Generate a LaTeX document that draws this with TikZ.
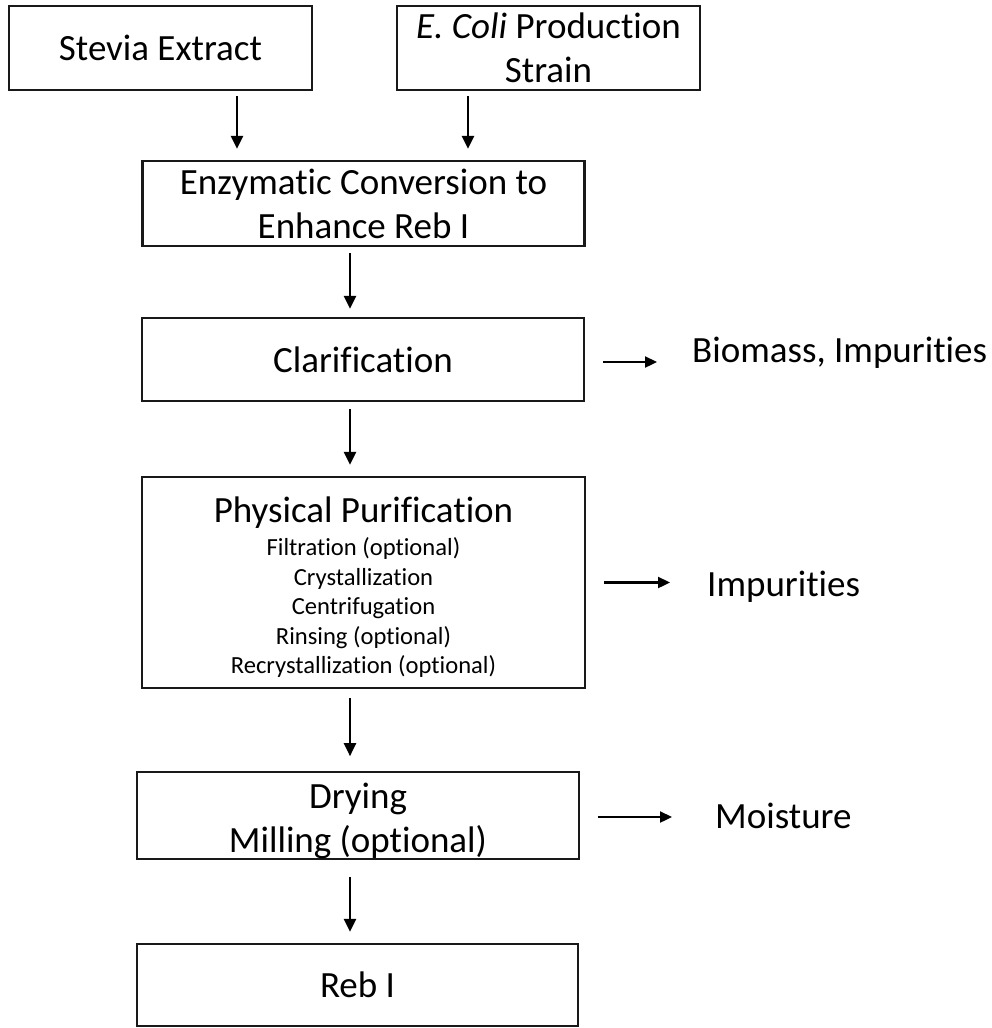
\documentclass[tikz,border=0pt]{standalone}
\usepackage{fontspec}
\setmainfont{Carlito}[Ligatures=NoCommon, RawFeature={-liga;-clig}]
\usetikzlibrary{arrows.meta}
\tikzset{
  box/.style={draw=black!90, line width=2.3pt, rectangle, inner sep=0pt, align=center,
    font=\fontsize{37}{44}\selectfont},
  lbl/.style={inner sep=0pt, anchor=base west, font=\fontsize{37}{44}\selectfont},
  arr/.style={line width=2.3pt, -{Triangle[length=13pt,width=12pt]}},
  sarr/.style={line width=2.3pt, -{Triangle[length=12pt,width=11pt]}}
}
\begin{document}
\begin{tikzpicture}[x=1pt,y=-1pt]
\useasboundingbox (0,0) rectangle (992,1028);
\node[box, minimum width=303pt, minimum height=84pt] (stevia) at (160.5,48) {Stevia Extract};
\node[box, minimum width=303pt, minimum height=84pt] (ecoli) at (548.5,48) {\textit{E. Coli} Production\\Strain};
\node[box, minimum width=442pt, minimum height=85pt] (enz) at (363.5,203.5) {Enzymatic Conversion to\\Enhance Reb I};
\node[box, minimum width=442pt, minimum height=83pt] (clar) at (363,359.5) {Clarification};
\node[box, minimum width=443pt, minimum height=211pt, font=\fontsize{24.6}{29.5}\selectfont] (pp) at (363.5,582.5)
  {{\fontsize{37}{44}\selectfont\rule{0pt}{35pt}Physical Purification}\\[3.5pt]Filtration (optional)\\Crystallization\\Centrifugation\\Rinsing (optional)\\Recrystallization (optional)};
\node[box, minimum width=442pt, minimum height=85pt] (dry) at (358,815.5) {\rule{0pt}{36pt}Drying\\Milling (optional)};
\node[box, minimum width=441pt, minimum height=82pt] (reb) at (357.5,985) {Reb I};

\node[lbl] (bio) at (692,362) {Biomass, Impurities};
\node[lbl] (imp) at (707,596) {Impurities};
\node[lbl] (moist) at (715,828) {Moisture};

\coordinate (xs) at (237,0);
\coordinate (xe) at (468,0);
\coordinate (xm) at (350,0);

\draw[arr, shorten <=5pt, shorten >=11pt] (stevia.south -| xs) -- (enz.north -| xs);
\draw[arr, shorten <=5pt, shorten >=11pt] (ecoli.south -| xe) -- (enz.north -| xe);
\draw[arr, shorten <=6pt, shorten >=8pt] (enz.south -| xm) -- (clar.north -| xm);
\draw[arr, shorten <=7pt, shorten >=11pt] (clar.south -| xm) -- (pp.north -| xm);
\draw[arr, shorten <=9pt, shorten >=15pt] (pp.south -| xm) -- (dry.north -| xm);
\draw[arr, shorten <=17pt, shorten >=11pt] (dry.south -| xm) -- (reb.north -| xm);

\draw[sarr, shorten <=18pt, shorten >=35pt] ([yshift=-2.5pt]clar.east) -- ([yshift=-2.5pt]clar.east -| bio.west);
\draw[sarr, shorten <=18pt, shorten >=37pt] (pp.east) -- (pp.east -| imp.west);
\draw[sarr, shorten <=18pt, shorten >=43pt] ([yshift=-1.5pt]dry.east) -- ([yshift=-1.5pt]dry.east -| moist.west);
\end{tikzpicture}
\end{document}
